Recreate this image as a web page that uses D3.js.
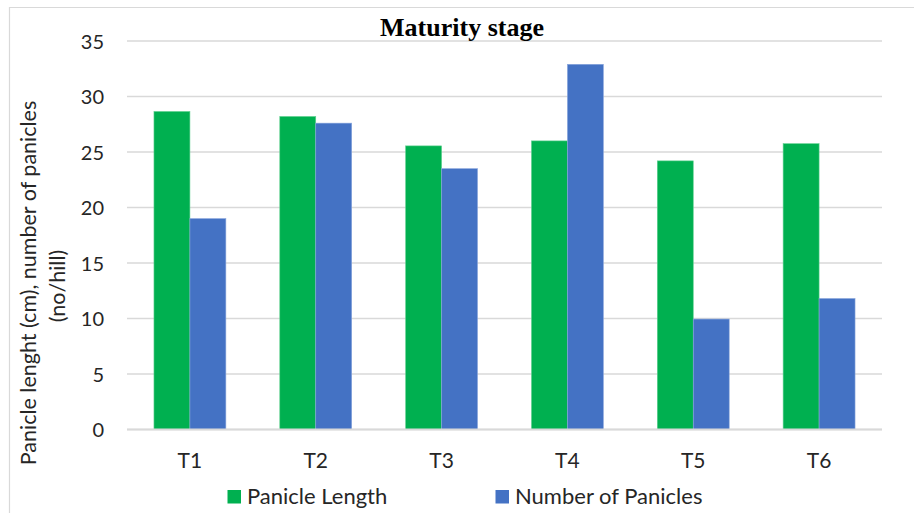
<!DOCTYPE html>
<html>
<head>
<meta charset="utf-8">
<script src="https://cdn.jsdelivr.net/npm/d3@7"></script>
<style>
  html, body { margin: 0; padding: 0; background: #fff; }
  svg { display: block; }
</style>
</head>
<body>
<svg id="chart" width="914" height="513"></svg>
<script>
const categories = ["T1", "T2", "T3", "T4", "T5", "T6"];
const seriesNames = ["Panicle Length", "Number of Panicles"];
const panicleLength = [28.65, 28.2, 25.55, 26.0, 24.2, 25.75];
const numberOfPanicles = [19.0, 27.6, 23.5, 32.9, 9.95, 11.8];
const yTicks = [0, 5, 10, 15, 20, 25, 30, 35];
const colors = ["#00b050", "#4472c4"];

const svg = d3.select("#chart");
const W = 914, H = 513;
const plot = { left: 127, right: 882, top: 41, bottom: 429.5 };

// border (chart area edge)
svg.append("line").attr("x1", 9).attr("x2", W).attr("y1", 7.5).attr("y2", 7.5)
  .attr("stroke", "#d9d9d9").attr("stroke-width", 1.2);
svg.append("line").attr("x1", 9.5).attr("x2", 9.5).attr("y1", 7).attr("y2", H)
  .attr("stroke", "#d9d9d9").attr("stroke-width", 1.2);

const x = d3.scaleBand().domain(categories).range([plot.left, plot.right]).padding(0);
const barW = x.bandwidth() / 3.5;
const xs = d3.scaleBand().domain(seriesNames).range([0, barW * 2]);
const y = d3.scaleLinear().domain([0, 35]).range([plot.bottom, plot.top]);

// gridlines
svg.append("g").selectAll("line").data(yTicks).join("line")
  .attr("x1", plot.left).attr("x2", plot.right)
  .attr("y1", d => y(d)).attr("y2", d => y(d))
  .attr("stroke", "#d9d9d9").attr("stroke-width", 1.6);

// y tick labels via axis
const yAxis = d3.axisLeft(y).tickValues(yTicks).tickSize(0).tickPadding(0);
const gy = svg.append("g").attr("transform", `translate(104,0)`).call(yAxis);
gy.select(".domain").remove();
gy.selectAll("text").attr("font-family", "Lato, 'Open Sans', sans-serif")
  .attr("font-size", 20).attr("fill", "#262626").attr("dy", "0.36em");

// x axis labels
const xAxis = d3.axisBottom(x).tickSize(0).tickPadding(0);
const gx = svg.append("g").attr("transform", `translate(0,${plot.bottom})`).call(xAxis);
gx.select(".domain").remove();
gx.selectAll("text").attr("font-family", "Lato, 'Open Sans', sans-serif")
  .attr("font-size", 21).attr("fill", "#262626").attr("dy", null).attr("y", 38.5);

// bars
const data = categories.map((c, i) => ({ cat: c, vals: [panicleLength[i], numberOfPanicles[i]] }));
const groups = svg.append("g").selectAll("g").data(data).join("g")
  .attr("transform", d => `translate(${x(d.cat) + (x.bandwidth() - barW * 2) / 2},0)`);
groups.selectAll("rect").data(d => d.vals.map((v, j) => ({ name: seriesNames[j], v, j })))
  .join("rect")
  .attr("x", d => xs(d.name))
  .attr("width", xs.bandwidth())
  .attr("y", d => y(d.v))
  .attr("height", d => y(0) - y(d.v))
  .attr("fill", d => colors[d.j])
  .attr("stroke", d => d.j === 0 ? "#5fd08f" : "#8aa6dc")
  .attr("stroke-width", 0.6);

// baseline axis line
svg.append("line").attr("x1", plot.left).attr("x2", plot.right)
  .attr("y1", plot.bottom).attr("y2", plot.bottom)
  .attr("stroke", "#d9d9d9").attr("stroke-width", 1.8);

// title
svg.append("text").attr("x", 462).attr("y", 36).attr("text-anchor", "middle")
  .attr("font-family", "'Liberation Serif', 'Times New Roman', serif")
  .attr("font-weight", "bold").attr("font-size", 26).attr("fill", "#000")
  .text("Maturity stage");

// y axis title
const yt = svg.append("g").attr("font-family", "Lato, 'Open Sans', sans-serif")
  .attr("font-size", 21.5).attr("fill", "#262626");
yt.append("text").attr("transform", "translate(36,283) rotate(-90)")
  .attr("text-anchor", "middle").text("Panicle lenght (cm), number of panicles");
yt.append("text").attr("transform", "translate(65,286) rotate(-90)")
  .attr("text-anchor", "middle").text("(no/hill)");

// legend
const legendPos = [{ sx: 227.5, tx: 247 }, { sx: 495.5, tx: 515 }];
const lg = svg.append("g").selectAll("g").data(seriesNames).join("g");
lg.append("rect").attr("x", (d, i) => legendPos[i].sx).attr("y", 490)
  .attr("width", 13.5).attr("height", 13.5).attr("fill", (d, i) => colors[i]);
lg.append("text").attr("x", (d, i) => legendPos[i].tx).attr("y", 503.5)
  .attr("font-family", "Lato, 'Open Sans', sans-serif").attr("font-size", 22)
  .attr("fill", "#262626").text(d => d);
</script>
</body>
</html>
